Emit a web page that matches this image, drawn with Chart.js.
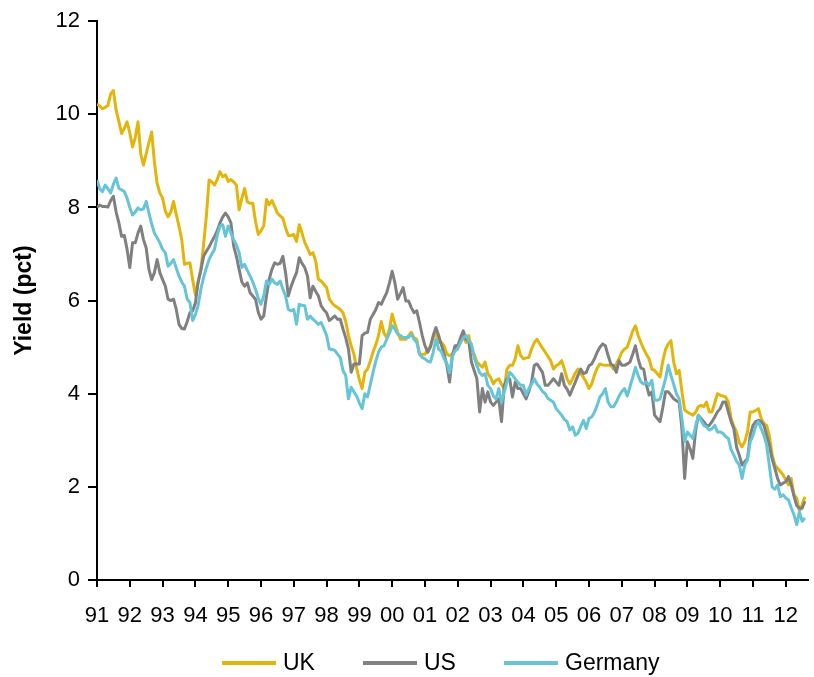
<!DOCTYPE html>
<html>
<head>
<meta charset="utf-8">
<script src="https://cdn.jsdelivr.net/npm/chart.js@4.4.1/dist/chart.umd.min.js"></script>
<style>
  html, body { margin: 0; padding: 0; background: #ffffff; }
  canvas { display: block; }
</style>
</head>
<body>
<canvas id="yields" width="814" height="677"></canvas>
<script>
// Year tick labels (one tick every January)
const yearLabels = ['91','92','93','94','95','96','97','98','99','00','01',
                    '02','03','04','05','06','07','08','09','10','11','12'];

// Monthly 10-year government bond yields, %, Jan 1991 onwards
const ukYield = [
  10.22,10.18,10.12,10.15,10.19,10.44,10.51,10.09,9.85,9.59,9.70,9.84,
  9.60,9.30,9.50,9.84,9.15,8.91,9.15,9.40,9.62,8.98,8.52,8.31,
  8.20,7.92,7.80,7.90,8.13,7.85,7.60,7.31,6.78,6.80,6.81,6.45,
  6.12,6.40,6.67,7.20,7.81,8.59,8.55,8.48,8.60,8.77,8.66,8.70,
  8.56,8.60,8.55,8.48,7.95,8.20,8.41,8.12,8.09,8.09,7.70,7.42,
  7.50,7.60,8.17,8.06,8.15,8.02,7.88,7.82,7.77,7.56,7.40,7.40,
  7.42,7.27,7.63,7.45,7.25,7.13,6.99,7.03,6.85,6.46,6.42,6.35,
  6.28,6.03,5.95,5.89,5.85,5.81,5.74,5.55,5.25,5.03,4.85,4.55,
  4.30,4.11,4.46,4.53,4.70,4.90,5.05,5.25,5.55,5.30,5.21,5.39,
  5.71,5.50,5.32,5.17,5.17,5.17,5.25,5.32,5.20,5.17,4.85,4.85,
  4.85,4.95,5.03,5.20,5.32,5.10,5.10,5.03,4.85,4.82,4.85,4.96,
  5.03,5.10,5.25,5.10,5.25,4.96,4.85,4.68,4.62,4.57,4.68,4.43,
  4.35,4.21,4.29,4.32,4.20,4.11,4.53,4.61,4.61,4.75,5.03,4.82,
  4.75,4.77,4.78,4.96,5.10,5.17,5.07,4.98,4.89,4.80,4.71,4.53,
  4.60,4.64,4.71,4.53,4.32,4.21,4.32,4.45,4.53,4.43,4.35,4.25,
  4.11,4.21,4.40,4.55,4.64,4.62,4.61,4.61,4.61,4.53,4.64,4.75,
  4.89,4.96,5.00,5.17,5.35,5.46,5.25,5.10,4.96,4.85,4.75,4.53,
  4.50,4.43,4.36,4.70,4.95,5.07,5.14,4.68,4.43,4.50,4.05,3.65,
  3.61,3.57,3.54,3.60,3.72,3.75,3.72,3.82,3.61,3.61,3.80,4.00,
  3.97,3.95,3.93,3.82,3.47,3.30,3.18,2.95,2.86,2.97,3.18,3.61,
  3.61,3.64,3.68,3.47,3.36,3.32,3.10,2.70,2.47,2.40,2.33,2.26,
  2.15,2.04,2.18,1.83,1.76,1.47,1.62,1.79
];

const usYield = [
  8.00,8.05,8.02,8.02,8.01,8.15,8.24,7.90,7.67,7.38,7.40,7.10,
  6.71,7.24,7.24,7.45,7.60,7.31,7.13,6.67,6.45,6.60,6.88,6.60,
  6.45,6.31,6.03,6.00,6.03,5.81,5.49,5.40,5.39,5.55,5.74,5.78,
  5.95,6.40,6.65,6.95,7.06,7.15,7.27,7.38,7.50,7.67,7.80,7.88,
  7.80,7.67,7.17,6.95,6.67,6.40,6.31,6.38,6.17,6.10,6.03,5.75,
  5.60,5.67,6.10,6.46,6.67,6.81,6.78,6.80,6.95,6.60,6.10,6.30,
  6.46,6.60,6.92,6.80,6.71,6.53,6.06,6.31,6.20,6.10,5.89,5.80,
  5.74,5.57,5.62,5.67,5.60,5.60,5.39,5.20,4.96,4.46,4.64,4.64,
  4.64,5.25,5.30,5.32,5.60,5.70,5.81,5.96,5.92,6.05,6.17,6.38,
  6.63,6.38,6.03,6.15,6.28,5.99,5.99,5.85,5.74,5.78,5.53,5.25,
  5.03,4.89,5.00,5.25,5.42,5.25,5.05,4.85,4.61,4.25,4.82,5.03,
  5.03,5.20,5.35,5.17,5.14,4.68,4.50,4.32,3.61,4.11,3.82,4.04,
  3.82,3.75,3.82,3.89,3.40,4.18,4.32,4.32,3.93,4.25,4.11,4.11,
  4.00,3.89,4.05,4.25,4.61,4.64,4.55,4.46,4.18,4.18,4.25,4.32,
  4.25,4.18,4.43,4.18,4.10,3.97,4.11,4.25,4.40,4.53,4.43,4.46,
  4.60,4.64,4.75,4.89,5.00,5.07,5.03,4.82,4.64,4.60,4.46,4.71,
  4.61,4.61,4.64,4.68,4.85,5.03,4.75,4.55,4.53,4.20,3.97,4.04,
  3.54,3.47,3.40,3.70,4.04,4.04,3.97,3.89,3.85,3.82,3.25,2.18,
  2.97,2.82,2.61,3.20,3.54,3.47,3.40,3.32,3.32,3.40,3.50,3.61,
  3.68,3.82,3.82,3.61,3.40,3.25,2.85,2.68,2.47,2.54,2.61,3.11,
  3.32,3.40,3.43,3.40,3.32,3.11,2.90,2.60,2.40,2.18,2.04,2.08,
  2.11,2.22,2.04,1.80,1.60,1.54,1.54,1.69
];

const germanyYield = [
  8.59,8.40,8.34,8.48,8.40,8.31,8.50,8.63,8.41,8.38,8.34,8.20,
  8.00,7.84,7.90,7.99,7.95,7.97,8.13,7.88,7.65,7.45,7.35,7.24,
  7.10,7.03,6.74,6.80,6.88,6.70,6.53,6.40,6.31,6.03,5.96,5.57,
  5.70,5.90,6.24,6.50,6.70,6.88,7.00,7.10,7.40,7.60,7.63,7.38,
  7.60,7.45,7.31,7.20,7.03,6.71,6.78,6.65,6.53,6.40,6.24,6.05,
  5.92,6.10,6.42,6.35,6.46,6.38,6.35,6.42,6.25,6.10,5.81,5.78,
  5.81,5.49,5.92,5.90,5.89,5.60,5.67,5.60,5.55,5.49,5.53,5.40,
  5.25,4.96,4.95,4.93,4.85,4.78,4.50,4.39,3.89,4.14,4.04,3.95,
  3.80,3.68,4.00,3.93,4.20,4.46,4.70,4.89,5.00,5.03,5.17,5.30,
  5.46,5.39,5.28,5.25,5.21,5.21,5.21,5.28,5.17,5.10,4.85,4.78,
  4.75,4.70,4.68,4.89,5.17,4.96,4.90,4.75,4.65,4.45,4.80,4.92,
  4.96,5.10,5.20,5.25,5.14,5.07,4.78,4.60,4.45,4.39,4.43,4.18,
  4.11,3.95,3.89,4.11,3.82,4.04,4.25,4.46,4.40,4.32,4.25,4.18,
  4.18,3.97,4.11,4.20,4.32,4.21,4.14,4.05,4.00,3.90,3.86,3.82,
  3.68,3.61,3.54,3.45,3.40,3.22,3.29,3.11,3.15,3.30,3.43,3.25,
  3.47,3.50,3.60,3.75,3.93,4.00,4.11,3.82,3.72,3.72,3.82,3.95,
  4.05,4.11,3.95,4.15,4.35,4.57,4.39,4.25,4.21,4.25,4.18,4.29,
  3.86,3.86,3.89,4.10,4.32,4.61,4.39,4.20,4.00,3.89,3.47,2.97,
  3.18,3.11,3.04,3.30,3.54,3.43,3.32,3.29,3.22,3.25,3.32,3.18,
  3.18,3.15,3.08,3.04,2.80,2.68,2.55,2.47,2.18,2.47,2.58,2.97,
  3.10,3.30,3.40,3.25,3.11,2.90,2.45,2.00,1.95,2.04,1.79,1.83,
  1.76,1.72,1.55,1.40,1.19,1.47,1.26,1.33
];

const seriesNames = ['UK', 'US', 'Germany'];
const seriesColors = ['#E3B50B', '#808080', '#66C4D8'];
const MONTHS = 12;
const FONT = "'Liberation Sans', Arial, Helvetica, sans-serif";

// month index -> {x, y}
const toPoints = values => values.map((v, i) => ({ x: i, y: v }));

Chart.defaults.font.family = FONT;
Chart.defaults.color = '#000000';

const seriesValues = [ukYield, usYield, germanyYield];

const datasets = seriesNames.map((name, k) => ({
  label: name,
  data: toPoints(seriesValues[k]),
  borderColor: seriesColors[k],
  backgroundColor: seriesColors[k],
  borderWidth: 3,
  borderJoinStyle: 'round',
  pointRadius: 0,
  tension: 0,
  // later series sit on top of earlier ones
  order: seriesNames.length - 1 - k
}));

// Single-row legend with line swatches, evenly spaced under the plot
const lineLegend = {
  id: 'lineLegend',
  afterDraw(chart, args, opts) {
    const ctx = chart.ctx;
    ctx.save();
    ctx.font = opts.fontSize + 'px ' + FONT;
    ctx.textBaseline = 'middle';
    ctx.textAlign = 'left';
    chart.data.datasets.forEach((ds, k) => {
      const x0 = opts.startX + k * opts.step;
      ctx.strokeStyle = ds.borderColor;
      ctx.lineWidth = opts.swatchWidth;
      ctx.lineCap = 'butt';
      ctx.beginPath();
      ctx.moveTo(x0, opts.y);
      ctx.lineTo(x0 + opts.swatchLength, opts.y);
      ctx.stroke();
      ctx.fillStyle = '#000000';
      ctx.fillText(ds.label, x0 + opts.swatchLength + opts.gap, opts.y + 1);
    });
    ctx.restore();
  }
};

new Chart(document.getElementById('yields'), {
  type: 'line',
  data: { datasets },
  plugins: [lineLegend],
  options: {
    responsive: false,
    animation: false,
    devicePixelRatio: 1,
    layout: { padding: { top: 18, right: 0, bottom: 0, left: 0 } },
    scales: {
      x: {
        type: 'linear',
        min: 0,
        max: 260.3,
        afterBuildTicks: scale => {
          scale.ticks = yearLabels.map((_, k) => ({ value: k * MONTHS }));
        },
        afterFit: scale => { scale.height = 97; },
        ticks: {
          autoSkip: false,
          maxRotation: 0,
          padding: 16,
          font: { size: 22 },
          color: '#000000',
          callback: value => yearLabels[Math.round(value / MONTHS)]
        },
        grid: {
          drawOnChartArea: false,
          drawTicks: true,
          tickLength: 7,
          color: '#000000',
          lineWidth: 2
        },
        border: { display: true, color: '#000000', width: 2 }
      },
      y: {
        min: 0,
        max: 12,
        afterFit: scale => { scale.width = 97; },
        ticks: {
          stepSize: 2,
          padding: 8,
          font: { size: 22 },
          color: '#000000'
        },
        grid: {
          drawOnChartArea: false,
          drawTicks: true,
          tickLength: 9,
          color: '#000000',
          lineWidth: 2
        },
        border: { display: true, color: '#000000', width: 2 },
        title: {
          display: true,
          text: 'Yield (pct)',
          color: '#000000',
          font: { size: 23, weight: 'bold' },
          padding: { top: 11, bottom: 0 }
        }
      }
    },
    plugins: {
      tooltip: { enabled: false },
      legend: { display: false },
      lineLegend: {
        startX: 222,
        step: 141,
        y: 663,
        swatchLength: 54,
        swatchWidth: 4,
        gap: 7,
        fontSize: 23
      }
    }
  }
});
</script>
</body>
</html>
